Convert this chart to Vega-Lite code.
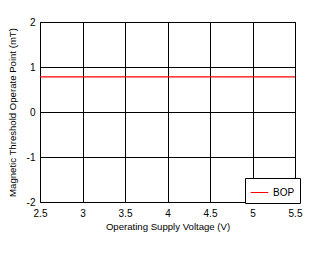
{
  "$schema": "https://vega.github.io/schema/vega-lite/v6.json",
  "autosize": {"type": "none"},
  "width": 255,
  "height": 180,
  "padding": {"left": 40, "top": 22, "right": 33, "bottom": 52},
  "background": "white",
  "config": {
    "font": "Liberation Sans",
    "view": {"stroke": "black", "strokeWidth": 1},
    "axis": {
      "gridColor": "black",
      "gridOpacity": 1,
      "gridWidth": 1,
      "domain": false,
      "ticks": false,
      "labelFontSize": 10,
      "labelColor": "black",
      "titleFontSize": 9.6,
      "titleFontWeight": "normal",
      "titleColor": "black"
    }
  },
  "data": {
    "values": [
      {"v": 2.5, "b": 0.78, "s": "BOP"},
      {"v": 3.0, "b": 0.78, "s": "BOP"},
      {"v": 3.5, "b": 0.78, "s": "BOP"},
      {"v": 4.0, "b": 0.78, "s": "BOP"},
      {"v": 4.5, "b": 0.78, "s": "BOP"},
      {"v": 5.0, "b": 0.78, "s": "BOP"},
      {"v": 5.5, "b": 0.78, "s": "BOP"}
    ]
  },
  "mark": {"type": "line", "strokeWidth": 1.2},
  "encoding": {
    "x": {
      "field": "v", "type": "quantitative",
      "scale": {"domain": [2.5, 5.5], "nice": false, "zero": false},
      "axis": {"values": [2.5, 3, 3.5, 4, 4.5, 5, 5.5], "format": "~g", "title": "Operating Supply Voltage (V)", "labelPadding": 6, "titlePadding": 3, "labelFlush": false}
    },
    "y": {
      "field": "b", "type": "quantitative",
      "scale": {"domain": [-2, 2], "nice": false},
      "axis": {"values": [-2, -1, 0, 1, 2], "labelExpr": "replace(datum.label, '\u2212', '-')", "title": "Magnetic Threshold Operate Point (mT)", "labelPadding": 5, "titlePadding": 9, "labelFlush": false}
    },
    "color": {
      "field": "s", "type": "nominal",
      "scale": {"domain": ["BOP"], "range": ["#ff0000"]},
      "legend": {
        "title": null,
        "orient": "none",
        "legendX": 205,
        "legendY": 156,
        "strokeColor": "black",
        "fillColor": "white",
        "padding": 5,
        "symbolType": "stroke",
        "symbolSize": 310,
        "symbolStrokeWidth": 1,
        "symbolStrokeColor": "#ff0000",
        "labelFontSize": 10,
        "labelColor": "black",
        "labelOffset": 4,
        "cornerRadius": 0
      }
    }
  }
}
